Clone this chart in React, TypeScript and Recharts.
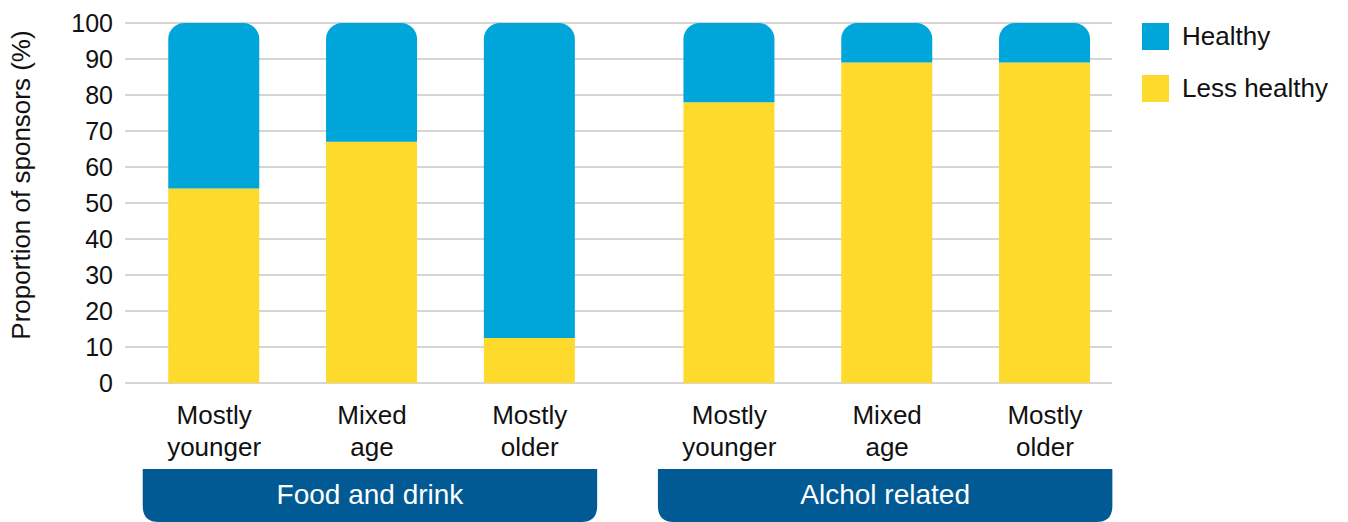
import React from 'react';
import { BarChart, Bar, XAxis, YAxis, CartesianGrid, Legend } from 'recharts';

// category labels, two lines each
const categories = ['Mostly\nyounger', 'Mixed\nage', 'Mostly\nolder', 'Mostly\nyounger', 'Mixed\nage', 'Mostly\nolder'];
const groupOf = [0, 0, 0, 1, 1, 1];
const groups = ['Food and drink', 'Alchol related'];

const lessHealthy = [54, 67, 12.5, 78, 89, 89];
const healthy = [46, 33, 87.5, 22, 11, 11];

const yTicks = [0, 10, 20, 30, 40, 50, 60, 70, 80, 90, 100];

const BLUE = '#00a6da';
const YELLOW = '#fdda2b';
const NAVY = '#015a94';
const FONT = '"Liberation Sans", Arial, Helvetica, sans-serif';

const W = 1348;
const H = 522;
const GROUP_STEP = 3.265; // units between first bars of each group
const X_DOMAIN: [number, number] = [-0.565, 5.69];
const PLOT_LEFT = 125;
const PLOT_RIGHT = 1112;
const PX_PER_UNIT = (PLOT_RIGHT - PLOT_LEFT) / (X_DOMAIN[1] - X_DOMAIN[0]);

const data = categories.map((c, i) => ({
    pos: (i % 3) + groupOf[i] * GROUP_STEP,
    label: c,
    lessHealthy: lessHealthy[i],
    healthy: healthy[i],
}));

const groupCenters = groups.map((_, g) => {
    const ps = data.filter((_, i) => groupOf[i] === g).map((d) => d.pos);
    return ps.reduce((a, b) => a + b, 0) / ps.length;
});

const CategoryTick = (props: any) => {
    const { x, y, payload } = props;
    const d = data.find((r) => Math.abs(r.pos - payload.value) < 1e-6);
    if (!d) return null;
    const lines = d.label.split('\n');
    return (
        <g>
            {lines.map((l, k) => (
                <text key={k} x={x} y={y + 33 + k * 32} textAnchor="middle" fontSize={26} fontFamily={FONT} fill="#111">
                    {l}
                </text>
            ))}
        </g>
    );
};

const GroupTick = (props: any) => {
    const { x, payload } = props;
    const g = groupCenters.findIndex((c) => Math.abs(c - payload.value) < 1e-6);
    if (g < 0) return null;
    const half = 1.44 * PX_PER_UNIT;
    const cx = x - 2;
    const top = 469;
    const bottom = 522;
    const r = 16;
    const l = cx - half;
    const rr = cx + half;
    const path = `M${l},${top} L${rr},${top} L${rr},${bottom - r} Q${rr},${bottom} ${rr - r},${bottom} L${l + r},${bottom} Q${l},${bottom} ${l},${bottom - r} Z`;
    return (
        <g>
            <path d={path} fill={NAVY} />
            <text x={cx} y={top + 35} textAnchor="middle" fontSize={28} fontFamily={FONT} fill="#fff">
                {groups[g]}
            </text>
        </g>
    );
};

const legendItems = [
    { name: 'Healthy', color: BLUE },
    { name: 'Less healthy', color: YELLOW },
];

const LegendBox = () => (
    <div style={{ fontFamily: FONT, fontSize: 26, color: '#111' }}>
        {legendItems.map((it) => (
            <div key={it.name} style={{ display: 'flex', alignItems: 'center', height: 52 }}>
                <span style={{ width: 27, height: 27, background: it.color, display: 'inline-block', marginRight: 13 }} />
                <span>{it.name}</span>
            </div>
        ))}
    </div>
);

const App = () => {
    return (
        <div style={{ position: 'absolute', left: 0, top: 0, width: W, height: H, background: '#fff' }}>
            <BarChart width={W} height={H} data={data} margin={{ top: 23, right: W - PLOT_RIGHT, left: 0, bottom: 0 }}>
                <CartesianGrid horizontal vertical={false} stroke="#c8c8c8" strokeWidth={1.5} />
                <XAxis
                    dataKey="pos"
                    type="number"
                    domain={X_DOMAIN}
                    allowDataOverflow
                    ticks={data.map((d) => d.pos)}
                    interval={0}
                    tick={<CategoryTick />}
                    axisLine={false}
                    tickLine={false}
                    height={86}
                />
                <XAxis
                    xAxisId="group"
                    dataKey="pos"
                    type="number"
                    domain={X_DOMAIN}
                    allowDataOverflow
                    ticks={groupCenters}
                    interval={0}
                    tick={<GroupTick />}
                    axisLine={false}
                    tickLine={false}
                    height={53}
                />
                <YAxis
                    type="number"
                    domain={[0, 100]}
                    ticks={yTicks}
                    interval={0}
                    width={PLOT_LEFT}
                    axisLine={false}
                    tickLine={false}
                    tickMargin={6}
                    tick={{ fill: '#111', fontSize: 25, fontFamily: FONT }}
                    label={{
                        value: 'Proportion of sponsors (%)',
                        angle: -90,
                        position: 'insideLeft',
                        dx: 16,
                        dy: -18,
                        style: { fill: '#111', fontSize: 26, fontFamily: FONT, textAnchor: 'middle' },
                    }}
                />
                <Legend
                    layout="vertical"
                    align="center"
                    verticalAlign="middle"
                    content={<LegendBox />}
                    wrapperStyle={{ left: 1142, top: 10, width: 206 }}
                />
                <Bar dataKey="lessHealthy" name="Less healthy" stackId="a" fill={YELLOW} barSize={91} isAnimationActive={false} />
                <Bar dataKey="healthy" name="Healthy" stackId="a" fill={BLUE} barSize={91} radius={[16, 16, 0, 0]} isAnimationActive={false} />
            </BarChart>
        </div>
    );
};

export default App;
